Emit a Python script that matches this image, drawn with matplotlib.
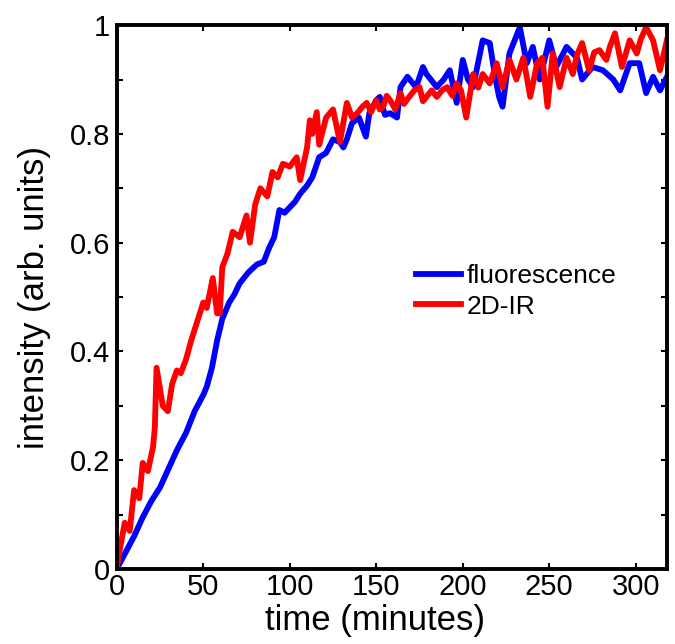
import matplotlib
matplotlib.use("Agg")
import matplotlib.pyplot as plt
from matplotlib.ticker import MultipleLocator

plt.rcParams["font.family"] = ["Liberation Sans", "DejaVu Sans"]

# fluorescence trace (time in minutes, normalised intensity)
fluor_t = [0, 5, 10, 15, 20, 25, 30, 35, 40, 45, 50, 52, 55, 58, 61, 65, 68,
           71, 76, 81, 85, 88, 91, 94, 97, 100, 103, 106, 110, 113, 117, 121,
           125, 129, 131, 133, 136, 140, 144, 146, 150, 152, 155, 158, 162,
           164, 168, 173, 177, 179, 185, 189, 192.5, 196.5, 200, 203, 206,
           211.5, 215.6, 219, 221, 223, 227, 233, 237, 240.5, 244.5, 250, 254,
           260, 266, 269, 275, 281, 287, 291, 296.5, 302, 306, 310, 314, 318]
fluor_y = [0, 0.03, 0.06, 0.095, 0.125, 0.15, 0.185, 0.22, 0.25, 0.29, 0.32,
           0.335, 0.37, 0.42, 0.46, 0.49, 0.505, 0.525, 0.545, 0.56, 0.565,
           0.59, 0.61, 0.66, 0.655, 0.665, 0.675, 0.69, 0.705, 0.72, 0.757,
           0.765, 0.79, 0.785, 0.775, 0.79, 0.82, 0.83, 0.795, 0.838, 0.862,
           0.868, 0.835, 0.838, 0.83, 0.886, 0.905, 0.886, 0.923, 0.91, 0.886,
           0.9, 0.917, 0.857, 0.936, 0.9, 0.886, 0.972, 0.967, 0.9, 0.868,
           0.85, 0.948, 0.996, 0.93, 0.96, 0.9, 0.972, 0.923, 0.96, 0.94, 0.9,
           0.923, 0.917, 0.9, 0.88, 0.93, 0.93, 0.875, 0.905, 0.88, 0.905]

# 2D-IR trace
ir_t = [0, 2, 4.6, 7.5, 10, 13, 15, 18, 21, 22, 23, 26.6, 29.5, 32, 34.7, 37,
        40, 43, 46, 50, 52, 55.5, 58, 59.5, 61, 64, 67, 71, 75, 77, 80, 83,
        87, 90, 93, 96, 100, 104, 106, 110, 111.6, 113, 115.6, 117, 121, 125,
        129, 133, 136, 139, 142, 144.5, 147, 150, 152, 154, 156, 158, 161,
        164, 166, 169, 172, 175, 177, 179, 182, 185, 188, 191, 194, 196.5,
        199, 202, 206, 209, 211.5, 215.6, 217, 219.6, 223, 227, 231, 235, 239,
        243, 246, 249, 252, 256, 260, 263.6, 266, 269, 273, 276, 279, 283,
        285, 288, 292, 296.5, 300.6, 303, 306, 310, 314, 318]
ir_y = [0, 0.04, 0.085, 0.07, 0.145, 0.13, 0.195, 0.18, 0.225, 0.26, 0.37,
        0.30, 0.29, 0.34, 0.365, 0.36, 0.385, 0.42, 0.45, 0.49, 0.48, 0.535,
        0.47, 0.47, 0.555, 0.58, 0.62, 0.61, 0.65, 0.60, 0.67, 0.70, 0.685,
        0.73, 0.72, 0.745, 0.74, 0.757, 0.715, 0.775, 0.825, 0.80, 0.84, 0.78,
        0.83, 0.845, 0.785, 0.857, 0.83, 0.838, 0.85, 0.857, 0.84, 0.862,
        0.845, 0.85, 0.87, 0.862, 0.845, 0.875, 0.855, 0.868, 0.88, 0.886,
        0.86, 0.868, 0.88, 0.868, 0.88, 0.886, 0.87, 0.893, 0.88, 0.83, 0.91,
        0.885, 0.91, 0.893, 0.905, 0.93, 0.886, 0.936, 0.9, 0.94, 0.868,
        0.93, 0.94, 0.85, 0.948, 0.886, 0.94, 0.91, 0.945, 0.967, 0.917, 0.95,
        0.954, 0.936, 0.96, 0.985, 0.923, 0.972, 0.948, 0.975, 0.996, 0.972,
        0.917, 0.972]

fig = plt.figure(figsize=(6.75, 6.44), dpi=100)
ax = fig.add_axes([0.173, 0.1165, 0.815, 0.8445])

ax.plot(fluor_t, fluor_y, color="#0000ff", lw=4.2, label="fluorescence")
ax.plot(ir_t, ir_y, color="#ff0000", lw=4.2, label="2D-IR")

ax.set_xlim(0, 318)
ax.set_ylim(0, 1)
ax.xaxis.set_major_locator(MultipleLocator(50))
ax.yaxis.set_minor_locator(MultipleLocator(0.1))
ax.set_yticks([0, 0.2, 0.4, 0.6, 0.8, 1.0])
ax.set_yticklabels(["0", "0.2", "0.4", "0.6", "0.8", "1"])
ax.tick_params(which="both", direction="in", top=True, right=True,
               length=4.5, width=1.5, labelsize=21)
ax.tick_params(axis="x", pad=3)
ax.tick_params(axis="y", pad=5)
for s in ax.spines.values():
    s.set_linewidth(2.8)

ax.set_xlabel("time (minutes)", fontsize=25, labelpad=3.5)
ax.xaxis.set_label_coords(0.47, -0.065, transform=ax.transAxes)
ax.xaxis.label.set_va("top")
ax.set_ylabel("intensity (arb. units)", fontsize=25, labelpad=13)

ax.legend(loc="upper left", bbox_to_anchor=(0.52, 0.585), frameon=False,
          fontsize=19, handlelength=1.7, handletextpad=0.2, labelspacing=0.25,
          borderpad=0)

fig.savefig("out.png", dpi=100)
